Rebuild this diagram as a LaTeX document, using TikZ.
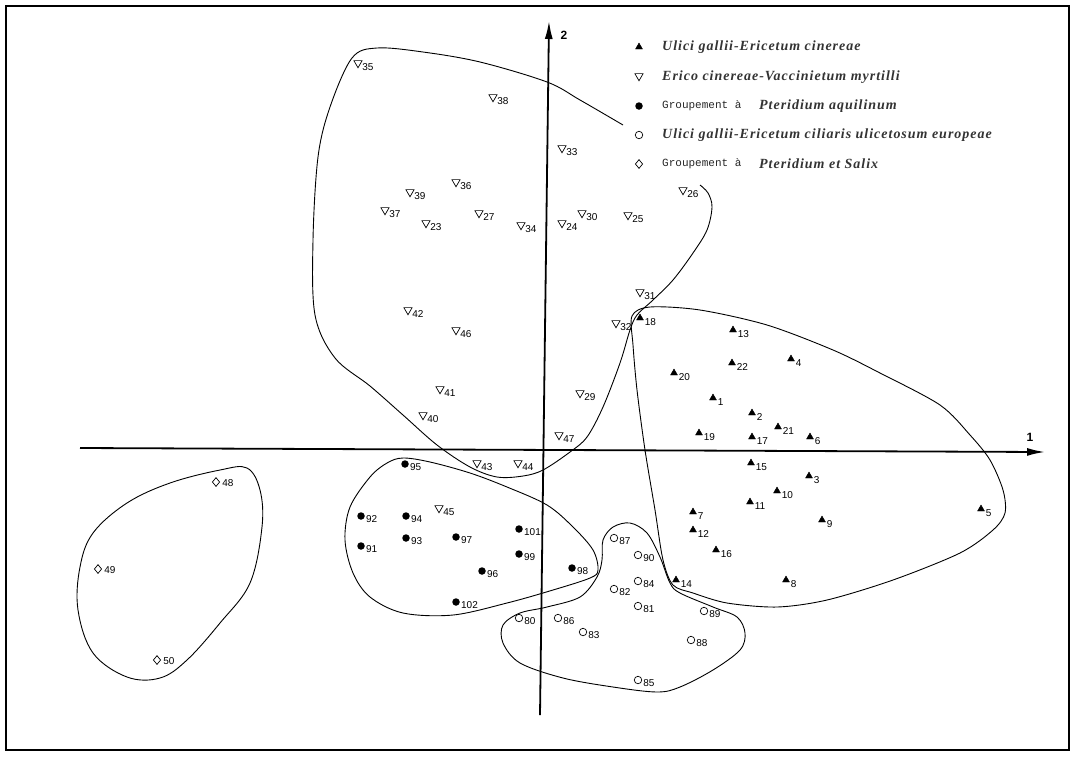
\documentclass[tikz,border=0pt]{standalone}
\usepackage{fontspec}
\setmainfont{Liberation Serif}
\setsansfont{Liberation Sans}
\setmonofont{Liberation Mono}
\usepackage{tikz}
\usetikzlibrary{shapes.geometric,arrows.meta,positioning}

\begin{document}
\begin{tikzpicture}[
    x=1pt, y=-1pt,
    tri/.style={regular polygon, regular polygon sides=3, fill=black, draw=black, minimum size=8pt, inner sep=0pt},
    itri/.style={regular polygon, regular polygon sides=3, shape border rotate=180, draw=black, line width=0.7pt, minimum size=9.5pt, inner sep=0pt},
    fdot/.style={circle, fill=black, minimum size=7.5pt, inner sep=0pt},
    odot/.style={circle, draw=black, line width=0.7pt, minimum size=7.5pt, inner sep=0pt},
    dia/.style={diamond, draw=black, line width=0.7pt, minimum width=7.5pt, minimum height=9pt, inner sep=0pt},
    numlbl/.style={anchor=west, inner sep=0pt, font=\sffamily\fontsize{10}{11}\selectfont},
    legtxt/.style={anchor=west, inner sep=0pt, font=\fontsize{14}{16}\selectfont\itshape\bfseries\addfontfeatures{LetterSpace=7}, text=black!80},
    grptxt/.style={anchor=west, inner sep=0pt, font=\ttfamily\fontsize{11}{12}\selectfont, text=black!85},
    axis/.style={line width=1.8pt, -{Latex[length=18pt,width=8pt]}},
    hull/.style={line width=0.9pt}
]
\useasboundingbox (0,0) rectangle (1075,756);
\draw[line width=2pt] (6,6) rectangle (1069,750);

\coordinate (xa) at (80,448);
\coordinate (xb) at (1045,452);
\coordinate (ya) at (540,715);
\coordinate (yb) at (549,21);
\draw[axis] (xa) -- (xb);
\draw[axis] (ya) -- (yb);
\node[font=\sffamily\bfseries\fontsize{12}{12}\selectfont] (ax1) at (1030,437) {1};
\node[font=\sffamily\bfseries\fontsize{12}{12}\selectfont] (ax2) at (564,35) {2};

% legend
\node[tri]  (k1) at (639,47) {};
\node[itri] (k2) at (639,76) {};
\node[fdot] (k3) at (639,106) {};
\node[odot] (k4) at (639,135) {};
\node[dia]  (k5) at (639,164) {};
\node[legtxt] (t1) at (662,47) {Ulici gallii-Ericetum cinereae};
\node[legtxt] (t2) at (662,77) {Erico cinereae-Vaccinietum myrtilli};
\node[grptxt] (g3) at (662,106) {Groupement à};
\node[legtxt] (t3) at (759,106) {Pteridium aquilinum};
\node[legtxt] (t4) at (662,135) {Ulici gallii-Ericetum ciliaris ulicetosum europeae};
\node[grptxt] (g5) at (662,164) {Groupement à};
\node[legtxt] (t5) at (759,164) {Pteridium et Salix};

% releves
\foreach \n/\px/\py in {35/358/63, 38/493/97, 33/562/148, 36/456/182, 39/410/192, 37/385/210,
    23/426/223, 27/479/213, 34/521/225, 24/562/223, 30/582/213, 25/628/215, 26/683/190,
    31/640/292, 32/616/323, 42/408/310, 46/456/330, 41/440/389, 40/423/415, 29/580/393,
    47/559/435, 43/477/463, 44/518/463, 45/439/508} {
  \node[itri] (p\n) at (\px,\py) {};
  \node[numlbl] (l\n) at ([shift={(1,4)}]p\n.east) {\n};
}
\foreach \n/\px/\py in {18/640/318, 13/733/330, 22/732/363, 4/791/359, 20/674/373, 1/713/398,
    2/752/413, 21/778/427, 19/699/433, 17/752/437, 6/810/437, 15/751/463, 3/809/476,
    10/777/491, 11/750/502, 7/693/512, 9/822/520, 5/981/509, 12/693/530, 16/716/550,
    14/676/580, 8/786/580} {
  \node[tri] (p\n) at (\px,\py) {};
  \node[numlbl] (l\n) at ([shift={(2,4)}]p\n.east) {\n};
}
\foreach \n/\px/\py in {95/405/464, 92/361/516, 94/406/516, 93/406/538, 91/361/546, 97/456/537,
    101/519/529, 99/519/554, 96/482/571, 98/572/568, 102/456/602} {
  \node[fdot] (p\n) at (\px,\py) {};
  \node[numlbl] (l\n) at ([shift={(1,3)}]p\n.east) {\n};
}
\foreach \n/\px/\py in {87/614/538, 90/638/555, 84/638/581, 82/614/589, 81/638/606, 80/519/618,
    86/558/618, 83/583/632, 89/704/611, 88/691/640, 85/638/680} {
  \node[odot] (p\n) at (\px,\py) {};
  \node[numlbl] (l\n) at ([shift={(1,3)}]p\n.east) {\n};
}
\foreach \n/\px/\py in {48/216/482, 49/98/569, 50/157/660} {
  \node[dia] (p\n) at (\px,\py) {};
  \node[numlbl] (l\n) at ([shift={(2,1)}]p\n.east) {\n};
}

% groupings
\draw[hull] plot[smooth, tension=0.55] coordinates {(623,125) (580,100) (547,82) (480,62) (423,52)
    (377,48) (352,58) (330,107) (318,157) (313,240) (315,315) (335,358) (370,386) (403,415)
    (437,445) (470,467) (497,477) (523,476) (543,470) (570,452) (587,437) (603,407) (620,363)
    (630,330) (637,315) (653,300) (673,280) (693,253) (707,230) (712,207) (708,193) (700,185)};
\draw[hull] plot[smooth cycle, tension=0.5] coordinates {(632,316) (650,307) (700,310) (767,325)
    (833,350) (880,373) (940,405) (970,435) (990,460) (1003,490) (1005,513) (993,530) (960,553)
    (893,580) (827,600) (777,607) (727,603) (693,593) (673,585) (663,560) (655,510) (645,450)
    (637,390) (633,345)};
\draw[hull] plot[smooth cycle, tension=0.55] coordinates {(403,458) (430,462) (470,473) (507,487)
    (547,505) (573,527) (593,550) (598,570) (590,578) (553,590) (507,603) (453,615) (403,613)
    (370,597) (353,573) (345,540) (350,507) (370,477) (387,463)};
\draw[hull] plot[smooth cycle, tension=0.55] coordinates {(597,577) (602,560) (603,540) (613,527)
    (630,523) (647,533) (660,557) (670,583) (680,593) (713,607) (737,617) (745,633) (740,650)
    (713,670) (680,687) (657,692) (613,687) (563,678) (520,663) (503,643) (503,625) (520,613)
    (547,607) (580,597)};
\draw[hull] plot[smooth cycle, tension=0.6] coordinates {(220,470) (247,468) (260,490) (262,527)
    (250,583) (220,623) (187,660) (160,678) (127,677) (93,653) (78,610) (80,567) (93,533)
    (127,503) (170,483)};

\end{tikzpicture}
\end{document}
